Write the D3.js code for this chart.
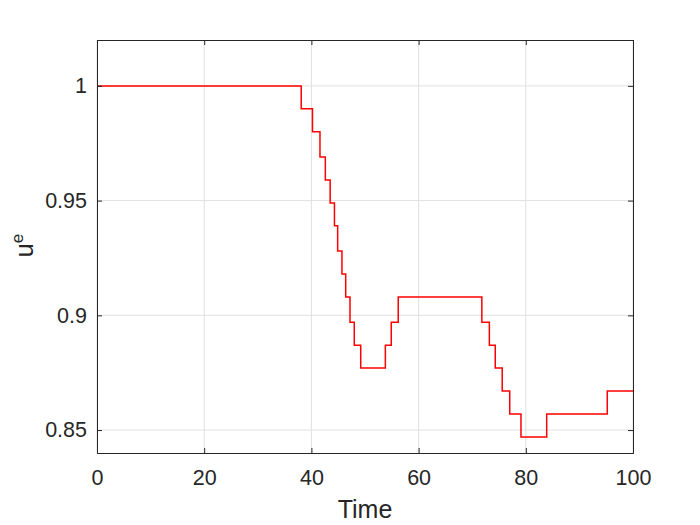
<!DOCTYPE html>
<html>
<head>
<meta charset="utf-8">
<script src="https://cdn.jsdelivr.net/npm/d3@7"></script>
<style>
  body { margin: 0; background: #fff; }
  text { font-family: "Liberation Sans", Arial, sans-serif; fill: #262626; }
</style>
</head>
<body>
<div id="chart"></div>
<script>
// step changes of u^e over time (value holds until next time)
const times = [0, 38.1, 40.2, 41.6, 42.6, 43.5, 44.3, 44.9, 45.7, 46.4, 47.2, 48.0, 49.2,
               53.8, 54.9, 56.2, 71.8, 73.2, 74.3, 75.6, 77.0, 79.1, 83.9, 95.2, 100];
const values = [1, 0.990, 0.980, 0.969, 0.959, 0.949, 0.939, 0.928, 0.918, 0.908, 0.897, 0.887, 0.877,
                0.887, 0.897, 0.908, 0.897, 0.887, 0.877, 0.867, 0.857, 0.847, 0.857, 0.867, 0.867];
const xTicks = [0, 20, 40, 60, 80, 100];
const yTicks = [0.85, 0.9, 0.95, 1];

const width = 700, height = 525;
const margin = {top: 40, right: 67, bottom: 72, left: 97};
const w = width - margin.left - margin.right;
const h = height - margin.top - margin.bottom;

const svg = d3.select('#chart').append('svg')
    .attr('width', width)
    .attr('height', height);

const g = svg.append('g')
    .attr('transform', 'translate(' + margin.left + ',' + margin.top + ')');

const x = d3.scaleLinear().domain([0, 100]).range([0, w]);
const y = d3.scaleLinear().domain([0.84, 1.02]).range([h, 0]);

// grid
g.append('g').selectAll('line').data(xTicks).join('line')
    .attr('x1', d => x(d)).attr('x2', d => x(d))
    .attr('y1', 0).attr('y2', h)
    .attr('stroke', '#e0e0e0').attr('stroke-width', 1);
g.append('g').selectAll('line').data(yTicks).join('line')
    .attr('y1', d => y(d)).attr('y2', d => y(d))
    .attr('x1', 0).attr('x2', w)
    .attr('stroke', '#e0e0e0').attr('stroke-width', 1);

// data line
const pts = times.map((t, i) => [t, values[i]]);
g.append('path')
    .datum(pts)
    .attr('fill', 'none')
    .attr('stroke', '#ff0000')
    .attr('stroke-width', 1.5)
    .attr('d', d3.line().x(d => x(d[0])).y(d => y(d[1])).curve(d3.curveStepAfter));

// axes, ticks inside
const fmt = d3.format('~g');
const xAxis = g.append('g').attr('transform', 'translate(0,' + h + ')')
    .call(d3.axisBottom(x).tickValues(xTicks).tickSize(-5).tickPadding(17).tickFormat(fmt));
const xTop = g.append('g')
    .call(d3.axisTop(x).tickValues(xTicks).tickSize(-5).tickFormat(''));
const yAxis = g.append('g')
    .call(d3.axisLeft(y).tickValues(yTicks).tickSize(-5).tickPadding(10).tickFormat(fmt));
const yRight = g.append('g').attr('transform', 'translate(' + w + ',0)')
    .call(d3.axisRight(y).tickValues(yTicks).tickSize(-5).tickFormat(''));

[xAxis, xTop, yAxis, yRight].forEach(a => {
    a.select('.domain').attr('stroke', '#262626').attr('stroke-width', 1);
    a.selectAll('.tick line').attr('stroke', '#262626');
    a.selectAll('.tick text').attr('font-size', 21.5).style('fill', '#262626')
        .attr('font-family', '"Liberation Sans", Arial, sans-serif');
});

// labels
g.append('text')
    .attr('x', w / 2).attr('y', h + 65)
    .attr('text-anchor', 'middle')
    .attr('font-size', 25)
    .text('Time');

const yl = g.append('text')
    .attr('transform', 'translate(' + (-64) + ',' + (h / 2 - 1) + ') rotate(-90)')
    .attr('text-anchor', 'middle')
    .attr('font-size', 25);
yl.append('tspan').text('u');
yl.append('tspan').attr('dy', -10).attr('font-size', 17).text('e');
</script>
</body>
</html>
